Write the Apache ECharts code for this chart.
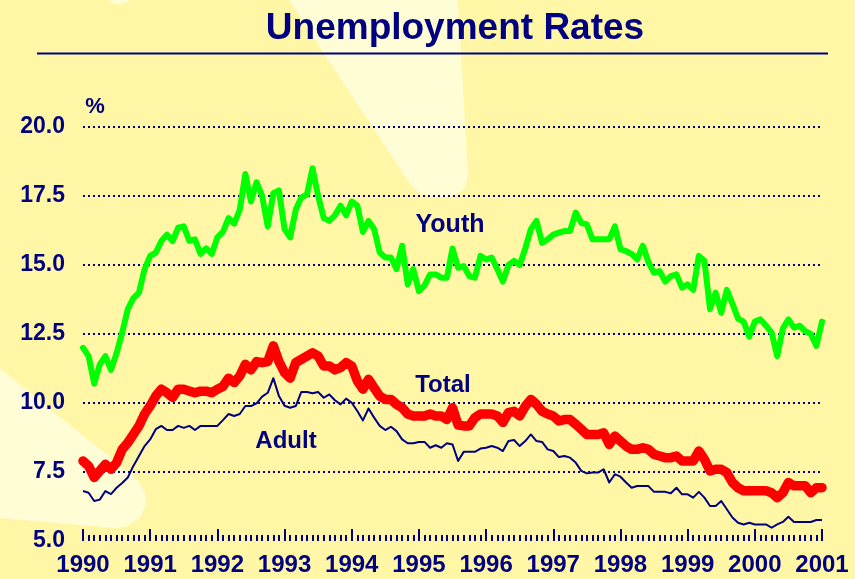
<!DOCTYPE html>
<html>
<head>
<meta charset="utf-8">
<script src="https://cdn.jsdelivr.net/npm/echarts@6/dist/echarts.min.js"></script>
<style>
html,body{margin:0;padding:0;background:#FFF7A6;}
#chart{width:855px;height:579px;}
</style>
</head>
<body>
<div id="chart"></div>
<script>
// Monthly data, Jan 1990 .. Jan 2001 (133 months)
var yearLabels = ['1990','1991','1992','1993','1994','1995','1996','1997','1998','1999','2000','2001'];
var yTicks = [5.0, 7.5, 10.0, 12.5, 15.0, 17.5, 20.0];

var youth = [
 12.0, 11.7, 10.7, 11.4, 11.7, 11.2, 11.8, 12.55, 13.4, 13.8, 14.0, 14.85,
 15.33, 15.45, 15.87, 16.1, 15.87, 16.35, 16.4, 15.87, 15.93, 15.4, 15.6, 15.4,
 16.0, 16.2, 16.7, 16.5, 17.0, 18.3, 17.3, 18.0, 17.5, 16.4, 17.6, 17.7,
 16.3, 16.0, 17.0, 17.45, 17.55, 18.5, 17.5, 16.7, 16.6, 16.8, 17.15, 16.8,
 17.3, 17.15, 16.2, 16.6, 16.3, 15.45, 15.27, 15.27, 14.85, 15.7, 14.3, 14.85,
 14.05, 14.25, 14.66, 14.66, 14.54, 14.54, 15.6, 14.9, 14.96, 14.6, 14.54, 15.33,
 15.2, 15.27, 14.85, 14.4, 15.0, 15.15, 15.0, 15.6, 16.3, 16.6, 15.8, 15.93,
 16.1, 16.17, 16.23, 16.23, 16.9, 16.53, 16.47, 15.93, 15.93, 15.93, 15.93, 16.4,
 15.57, 15.5, 15.4, 15.2, 15.7, 15.1, 14.72, 14.78, 14.4, 14.6, 14.66, 14.18,
 14.3, 14.1, 15.33, 15.15, 13.4, 14.0, 13.27, 14.1, 13.6, 13.06, 12.95, 12.4,
 12.95, 13.03, 12.8, 12.55, 11.7, 12.7, 13.03, 12.73, 12.8, 12.6, 12.5, 12.07, 12.95
];
var total = [
 7.9, 7.72, 7.3, 7.54, 7.78, 7.6, 7.84, 8.32, 8.56, 8.86, 9.17, 9.6,
 9.9, 10.25, 10.5, 10.37, 10.2, 10.5, 10.5, 10.43, 10.37, 10.43, 10.43, 10.37,
 10.5, 10.6, 10.9, 10.74, 10.98, 11.4, 11.2, 11.5, 11.46, 11.5, 12.07, 11.5,
 11.1, 10.9, 11.46, 11.58, 11.7, 11.82, 11.7, 11.34, 11.34, 11.2, 11.28, 11.46,
 11.34, 10.8, 10.5, 10.86, 10.55, 10.25, 10.13, 10.13, 9.95, 9.83, 9.6, 9.53,
 9.53, 9.53, 9.6, 9.53, 9.53, 9.4, 9.83, 9.2, 9.17, 9.17, 9.47, 9.6,
 9.6, 9.6, 9.53, 9.3, 9.65, 9.7, 9.53, 9.88, 10.13, 9.95, 9.7, 9.6,
 9.53, 9.35, 9.4, 9.4, 9.23, 9.05, 8.86, 8.86, 8.86, 8.92, 8.5, 8.8,
 8.62, 8.44, 8.32, 8.32, 8.38, 8.32, 8.14, 8.08, 8.02, 8.02, 8.08, 7.9,
 7.9, 7.9, 8.26, 7.96, 7.54, 7.6, 7.6, 7.48, 7.12, 6.93, 6.82, 6.82,
 6.82, 6.82, 6.82, 6.75, 6.57, 6.75, 7.12, 7.0, 7.0, 7.0, 6.75, 6.93, 6.93
];
var adult = [
 6.81, 6.75, 6.45, 6.5, 6.81, 6.7, 6.93, 7.1, 7.3, 7.72, 8.08, 8.44,
 8.68, 9.05, 9.17, 9.02, 9.02, 9.17, 9.1, 9.17, 9.02, 9.17, 9.17, 9.17,
 9.17, 9.38, 9.6, 9.53, 9.6, 9.89, 9.89, 9.99, 10.23, 10.37, 10.9, 10.25,
 9.9, 9.83, 9.89, 10.4, 10.4, 10.35, 10.4, 10.19, 10.31, 10.1, 9.95, 10.16,
 10.01, 9.71, 9.37, 9.8, 9.47, 9.17, 9.02, 9.14, 8.98, 8.68, 8.54, 8.54,
 8.59, 8.59, 8.38, 8.47, 8.38, 8.54, 8.5, 7.9, 8.23, 8.23, 8.23, 8.35,
 8.38, 8.44, 8.38, 8.26, 8.62, 8.66, 8.44, 8.62, 8.86, 8.62, 8.59, 8.32,
 8.26, 8.04, 8.08, 8.02, 7.84, 7.54, 7.45, 7.48, 7.48, 7.6, 7.12, 7.42,
 7.33, 7.12, 6.93, 6.99, 6.99, 6.99, 6.78, 6.78, 6.78, 6.73, 6.93, 6.69,
 6.69, 6.57, 6.78, 6.57, 6.27, 6.27, 6.45, 6.15, 5.85, 5.66, 5.6, 5.66,
 5.6, 5.6, 5.6, 5.48, 5.6, 5.69, 5.88, 5.69, 5.69, 5.69, 5.69, 5.76, 5.76
];

function pairs(arr){ return arr.map(function(v,i){ return [i, v]; }); }

var NAVY = '#000080';
var FONT = '"Liberation Sans", Arial, sans-serif';
var LIGHT = '#FFFDD6';

var chart = echarts.init(document.getElementById('chart'), null, {renderer:'canvas'});
chart.setOption({
  backgroundColor: '#FFF7A6',
  animation: false,
  grid: {left: 83, right: 33, top: 127, bottom: 38, containLabel: false},
  xAxis: {
    type: 'value', min: 0, max: 132, interval: 12,
    axisLine: {show: false, onZero: false},
    axisTick: {show: true, inside: true, length: 12, lineStyle: {color: NAVY, width: 2}},
    minorTick: {show: true, splitNumber: 12, length: 6, lineStyle: {color: NAVY, width: 2}},
    splitLine: {show: false},
    axisLabel: {
      margin: 12, color: NAVY, fontSize: 24, fontWeight: 'bold', fontFamily: FONT,
      formatter: function(v){ return yearLabels[Math.round(v/12)] || ''; }
    }
  },
  yAxis: {
    type: 'value', min: yTicks[0], max: yTicks[yTicks.length-1], interval: 2.5,
    axisLine: {show: false}, axisTick: {show: false},
    splitLine: {show: true, showMinLine: false, lineStyle: {color: NAVY, width: 2, type: [2, 3]}},
    axisLabel: {
      margin: 18, color: NAVY, fontSize: 23, fontWeight: 'bold', fontFamily: FONT,
      formatter: function(v){ return v.toFixed(1); }
    }
  },
  graphic: [
    {type: 'polygon', z: -10, silent: true,
     shape: {points: [[289,0],[458,0],[468,175],[465,188],[456,195],[445,197],[432,197],[420,194],[410,184]]},
     style: {fill: LIGHT}},
    {type: 'polygon', z: -10, silent: true,
     shape: {points: [[0,368],[60,417],[126,470],[140,483],[146,496],[145,508],[139,519],[128,526],[115,528],[0,518]]},
     style: {fill: LIGHT}},
    {type: 'circle', z: -10, silent: true, shape: {cx: 119, cy: -12, r: 16}, style: {fill: LIGHT}},
    {type: 'text', z: 10, style: {text: 'Unemployment Rates', x: 455, y: 29, textAlign: 'center', textVerticalAlign: 'middle',
      font: 'bold 37px ' + FONT, fill: NAVY}},
    {type: 'line', z: 10, shape: {x1: 37, y1: 53.5, x2: 828, y2: 53.5}, style: {stroke: NAVY, lineWidth: 2}},
    {type: 'text', z: 10, style: {text: '%', x: 95, y: 107, textAlign: 'center', textVerticalAlign: 'middle',
      font: 'bold 22px ' + FONT, fill: NAVY}},
    {type: 'text', z: 10, style: {text: 'Youth', x: 450, y: 225, textAlign: 'center', textVerticalAlign: 'middle',
      font: 'bold 25px ' + FONT, fill: NAVY}},
    {type: 'text', z: 10, style: {text: 'Total', x: 443, y: 385, textAlign: 'center', textVerticalAlign: 'middle',
      font: 'bold 24px ' + FONT, fill: NAVY}},
    {type: 'text', z: 10, style: {text: 'Adult', x: 286, y: 441, textAlign: 'center', textVerticalAlign: 'middle',
      font: 'bold 24px ' + FONT, fill: NAVY}}
  ],
  series: [
    {name: 'Youth', type: 'line', data: pairs(youth), symbol: 'none', smooth: false,
     lineStyle: {color: '#00FF00', width: 6, cap: 'round', join: 'round'}, z: 3},
    {name: 'Total', type: 'line', data: pairs(total), symbol: 'none', smooth: false,
     lineStyle: {color: '#FF0000', width: 9.5, cap: 'round', join: 'round'}, z: 3},
    {name: 'Adult', type: 'line', data: pairs(adult), symbol: 'none', smooth: false,
     lineStyle: {color: NAVY, width: 2, join: 'round'}, z: 4}
  ]
});
</script>
</body>
</html>
